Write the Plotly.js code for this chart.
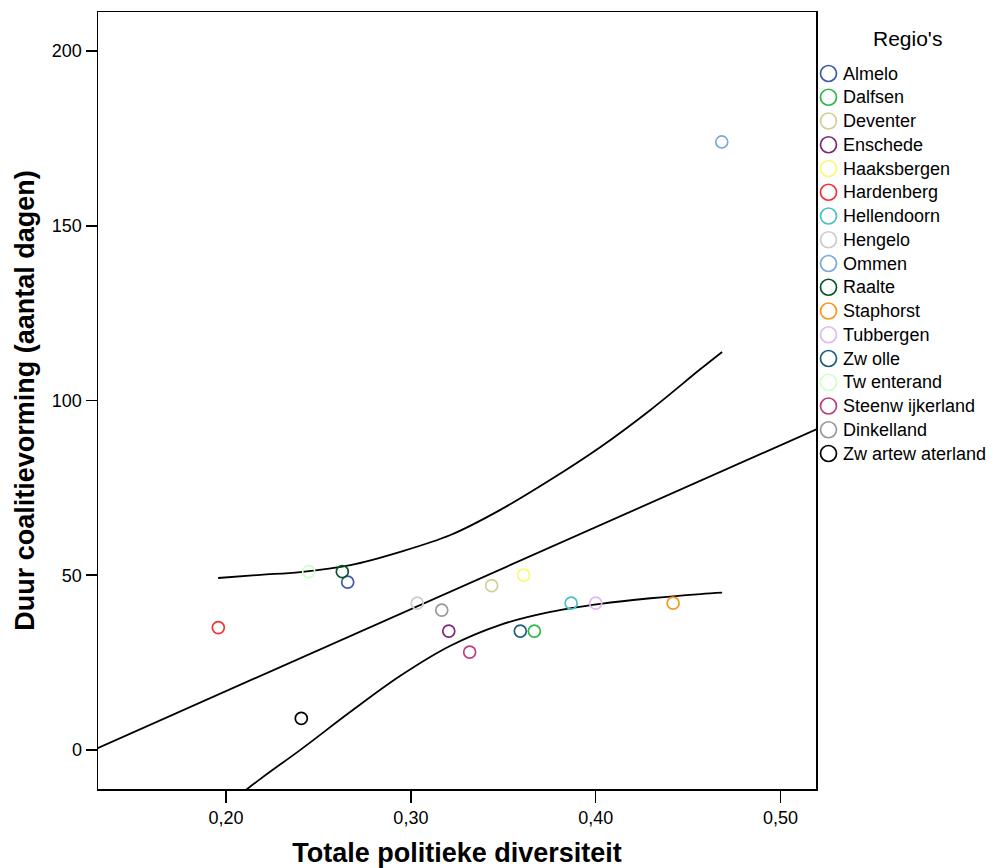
<!DOCTYPE html>
<html>
<head>
<meta charset="utf-8">
<script src="https://cdn.plot.ly/plotly-3.0.1.min.js"></script>
<style>html,body{margin:0;padding:0;background:#fff;}#chart{width:994px;height:868px;}</style>
</head>
<body>
<div id="chart"></div>
<script>
// Regions (legend labels as shown in the reference)
const regions = ["Almelo","Dalfsen","Deventer","Enschede","Haaksbergen","Hardenberg","Hellendoorn","Hengelo","Ommen","Raalte","Staphorst","Tubbergen","Zw olle","Tw enterand","Steenw ijkerland","Dinkelland","Zw artew aterland"];
// Totale politieke diversiteit
const diversity = [0.2658,0.3668,0.3437,0.3205,0.3610,0.1958,0.3867,0.3034,0.4682,0.2629,0.4419,0.4000,0.3592,0.2447,0.3318,0.3167,0.2407];
// Duur coalitievorming (aantal dagen)
const duration = [48,34,47,34,50,35,42,42,174,51,42,42,34,51,28,40,9];
const colors = ["#3E58AC","#2EB848","#D3CE97","#7C287D","#FBF873","#EF3338","#48C2C5","#CCCCCC","#7AAAD5","#0A562C","#F8981D","#DDBAF1","#1A5F76","#CCFFCC","#BB3F7F","#999999","#000000"];

// Fit line
const fitX = [0.1300, 0.5200];
const fitY = [0.4, 91.9];
// Confidence band
const bandX  = [0.1957,0.2186,0.2402,0.2673,0.2943,0.3214,0.3484,0.3755,0.4026,0.4296,0.4567,0.4684];
const upperY = [49.2,50.1,50.9,52.9,56.7,61.5,68.7,77.3,86.7,97.3,109.0,113.9];
const lowerY = [-17.7,-8.3,0.0,10.9,21.2,29.8,35.8,39.5,41.8,43.4,44.6,45.0];

const xTickVals = [0.2,0.3,0.4,0.5];
const xTickText = ["0,20","0,30","0,40","0,50"];
const yTickVals = [0,50,100,150,200];

const baseFont = "Liberation Sans, Arial, sans-serif";

// ---- geometry (pixels) ----
const W = 994, H = 868;
const plotL = 98, plotR = 816, plotT = 12, plotB = 789;
const areaW = W - plotL;           // margin.r = 0
const mainFrac = (plotR - plotL) / areaW;

const traces = [];
const lineStyle = {color:"#000000", width:1.8};
traces.push({x:fitX, y:fitY, mode:"lines", line:lineStyle, showlegend:false, hoverinfo:"skip", xaxis:"x", yaxis:"y"});
traces.push({x:bandX, y:upperY, mode:"lines", line:Object.assign({shape:"spline", smoothing:1}, lineStyle), showlegend:false, hoverinfo:"skip"});
traces.push({x:bandX, y:lowerY, mode:"lines", line:Object.assign({shape:"spline", smoothing:1}, lineStyle), showlegend:false, hoverinfo:"skip"});

regions.forEach((r,i)=>{
  traces.push({
    x:[diversity[i]], y:[duration[i]], mode:"markers", name:r,
    marker:{symbol:"circle-open", size:12, color:colors[i], line:{width:1.7, color:colors[i]}},
    showlegend:false, hoverinfo:"skip"
  });
});

// ---- manual legend drawn on a hidden pixel-scaled axis pair ----
const legX = 828.5, legTextX = 842, legY0 = 73.5, legStep = 23.75;
const legXs = regions.map(()=>legX);
const legYs = regions.map((_,i)=>legY0 + i*legStep);
traces.push({
  x:legXs, y:legYs, xaxis:"x2", yaxis:"y2", mode:"markers",
  marker:{symbol:"circle-open", size:16, color:colors, line:{width:1.7, color:colors}},
  showlegend:false, hoverinfo:"skip", cliponaxis:false
});
const annotations = regions.map((r,i)=>({
  x:legTextX, y:legYs[i], xref:"x2", yref:"y2", text:r, showarrow:false,
  xanchor:"left", yanchor:"middle", font:{family:baseFont, size:18, color:"#000000"}, borderpad:0
}));
annotations.push({
  x:907, y:38, xref:"x2", yref:"y2", text:"Regio's", showarrow:false,
  xanchor:"center", yanchor:"middle", font:{family:baseFont, size:21, color:"#000000"}, borderpad:0
});

const layout = {
  width:W, height:H,
  margin:{l:plotL, r:0, t:plotT, b:H-plotB},
  paper_bgcolor:"#ffffff", plot_bgcolor:"#ffffff",
  font:{family:baseFont, color:"#000000", size:18},
  showlegend:false,
  annotations:annotations,
  xaxis:{
    domain:[0, mainFrac], anchor:"y",
    range:[0.1307,0.5192], tickvals:xTickVals, ticktext:xTickText,
    showgrid:false, zeroline:false, showline:true, mirror:true,
    linecolor:"#000000", linewidth:1.5,
    ticks:"outside", ticklen:12, tickwidth:1.5, tickcolor:"#000000",
    tickfont:{family:baseFont, size:18, color:"#000000"},
    title:{text:"Totale politieke diversiteit", standoff:22, font:{family:baseFont, size:27, color:"#000000", weight:"bold"}}
  },
  yaxis:{
    domain:[0,1], anchor:"x",
    range:[-11.2,211.2], tickvals:yTickVals,
    showgrid:false, zeroline:false, showline:true, mirror:true,
    linecolor:"#000000", linewidth:1.5,
    ticks:"outside", ticklen:11, tickwidth:1.5, tickcolor:"#000000",
    tickfont:{family:baseFont, size:18, color:"#000000"},
    title:{text:"Duur coalitievorming (aantal dagen)", standoff:9, font:{family:baseFont, size:27, color:"#000000", weight:"bold"}}
  },
  xaxis2:{domain:[mainFrac,1], anchor:"y2", range:[plotR, W], visible:false, fixedrange:true},
  yaxis2:{domain:[0,1], anchor:"x2", range:[plotB, plotT], visible:false, fixedrange:true}
};

Plotly.newPlot("chart", traces, layout, {displayModeBar:false, staticPlot:true});
</script>
</body>
</html>
